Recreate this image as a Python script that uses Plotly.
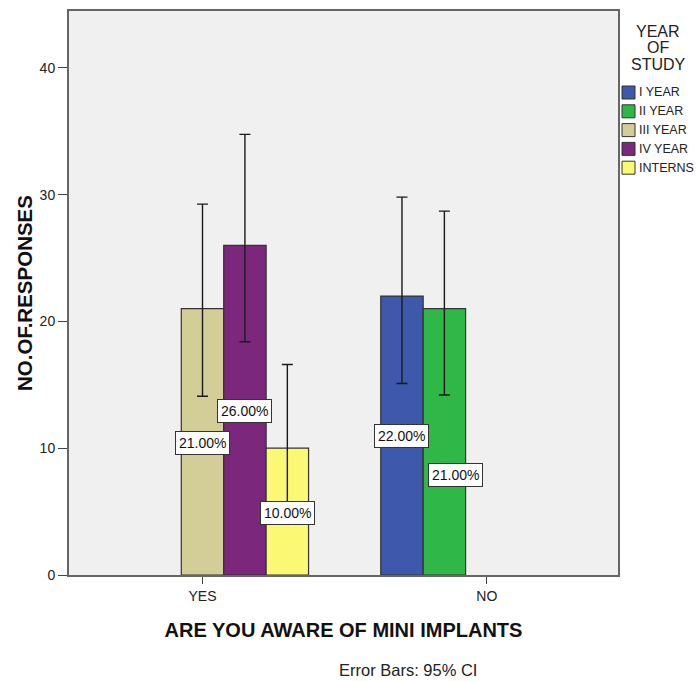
import plotly.graph_objects as go

categories = ["YES", "NO"]
series_names = ["I YEAR", "II YEAR", "III YEAR", "IV YEAR", "INTERNS"]
values = {
    "I YEAR": [None, 22],
    "II YEAR": [None, 21],
    "III YEAR": [21, None],
    "IV YEAR": [26, None],
    "INTERNS": [10, None],
}
ci_upper = {
    "I YEAR": [None, 29.8],
    "II YEAR": [None, 28.7],
    "III YEAR": [29.25, None],
    "IV YEAR": [34.75, None],
    "INTERNS": [16.6, None],
}
ci_lower = {
    "I YEAR": [None, 15.1],
    "II YEAR": [None, 14.2],
    "III YEAR": [14.1, None],
    "IV YEAR": [18.4, None],
    "INTERNS": [4.8, None],
}
pct_labels = {
    "I YEAR": [None, "22.00%"],
    "II YEAR": [None, "21.00%"],
    "III YEAR": ["21.00%", None],
    "IV YEAR": ["26.00%", None],
    "INTERNS": ["10.00%", None],
}
label_y = {
    "I YEAR": [None, 11.0],
    "II YEAR": [None, 7.85],
    "III YEAR": [10.45, None],
    "IV YEAR": [12.97, None],
    "INTERNS": [4.9, None],
}
colors = {
    "I YEAR": "#3E58AC",
    "II YEAR": "#2FB848",
    "III YEAR": "#D3CE97",
    "IV YEAR": "#7B277C",
    "INTERNS": "#FBF873",
}

W, H = 696, 681
L, R, T, B = 69, 618, 11, 575  # plot area in pixels


def px(x):
    return (x - L) / (R - L)


def py(y):
    return (B - y) / (B - T)


fig = go.Figure()
for name in series_names:
    v = values[name]
    up = [(u - x) if (u is not None and x is not None) else None for u, x in zip(ci_upper[name], v)]
    dn = [(x - l) if (l is not None and x is not None) else None for l, x in zip(ci_lower[name], v)]
    fig.add_trace(go.Bar(
        x=categories, y=v, name=name, showlegend=False,
        marker=dict(color=colors[name], line=dict(color="#333333", width=1.2)),
        error_y=dict(type="data", symmetric=False, array=up, arrayminus=dn,
                     color="#1a1a1a", thickness=1.4, width=5.5),
    ))

# percentage labels
n = len(series_names)
bargap = 0.254
slot = (1 - bargap) / n
for i, name in enumerate(series_names):
    for j, cat in enumerate(categories):
        txt = pct_labels[name][j]
        if txt is None:
            continue
        xpos = j + (i - (n - 1) / 2) * slot
        xs = 11 if name == "II YEAR" else 0
        fig.add_annotation(x=xpos, y=label_y[name][j], text=txt, showarrow=False,
                           xref="x", yref="y", xshift=xs, xanchor="center", yanchor="middle",
                           font=dict(family="Arial", size=14, color="#111111"),
                           bgcolor="white", bordercolor="#333333", borderwidth=1, borderpad=3)

# footnote
fig.add_annotation(xref="paper", yref="paper", x=px(408), y=py(670), text="Error Bars: 95% CI",
                   xanchor="center", yanchor="middle",
                   showarrow=False, font=dict(family="Arial", size=16.5, color="#222222"))

# legend (drawn as SPSS-style box list)
for k, line in enumerate(["YEAR", "OF", "STUDY"]):
    fig.add_annotation(xref="paper", yref="paper", x=px(658), y=py(31 + k * 16.5), text=line,
                       xanchor="center", yanchor="middle",
                       showarrow=False, font=dict(family="Arial", size=16, color="#222222"))
for i, name in enumerate(series_names):
    cy = 92.5 + i * 18.8
    fig.add_shape(type="rect", xref="paper", yref="paper",
                  x0=px(622), x1=px(635), y0=py(cy - 6.5), y1=py(cy + 6.5),
                  fillcolor=colors[name], line=dict(color="#333333", width=1))
    fig.add_annotation(xref="paper", yref="paper", x=px(637), y=py(cy), text=name,
                       xanchor="left", yanchor="middle", showarrow=False,
                       font=dict(family="Arial", size=12.5, color="#222222"))

fig.update_layout(
    width=W, height=H,
    margin=dict(l=L, r=W - R, t=T, b=H - B, autoexpand=False),
    paper_bgcolor="white", plot_bgcolor="#F0F0F0",
    barmode="group", bargap=bargap, bargroupgap=0,
    font=dict(family="Arial", size=12, color="#222222"),
    showlegend=False,
)
fig.update_xaxes(
    type="category", range=[-0.4696, 1.4615],
    showline=True, linecolor="#666666", linewidth=2, mirror=True,
    ticks="outside", ticklen=7, tickcolor="#444444",
    showgrid=False, tickfont=dict(family="Arial", size=14, color="#222222"),
    title=dict(text="<b>ARE YOU AWARE OF MINI IMPLANTS</b>",
               font=dict(family="Arial", size=20, color="#111111"), standoff=20),
)
fig.update_yaxes(
    range=[0, 44.48], tickvals=[0, 10, 20, 30, 40],
    showline=True, linecolor="#666666", linewidth=2, mirror=True,
    ticks="outside", ticklen=9, tickcolor="#444444",
    showgrid=False, zeroline=False, tickfont=dict(family="Arial", size=14, color="#222222"),
    title=dict(text="<b>NO.OF.RESPONSES</b>",
               font=dict(family="Arial", size=20.5, color="#111111"), standoff=1),
)

fig.write_html("out.html")
